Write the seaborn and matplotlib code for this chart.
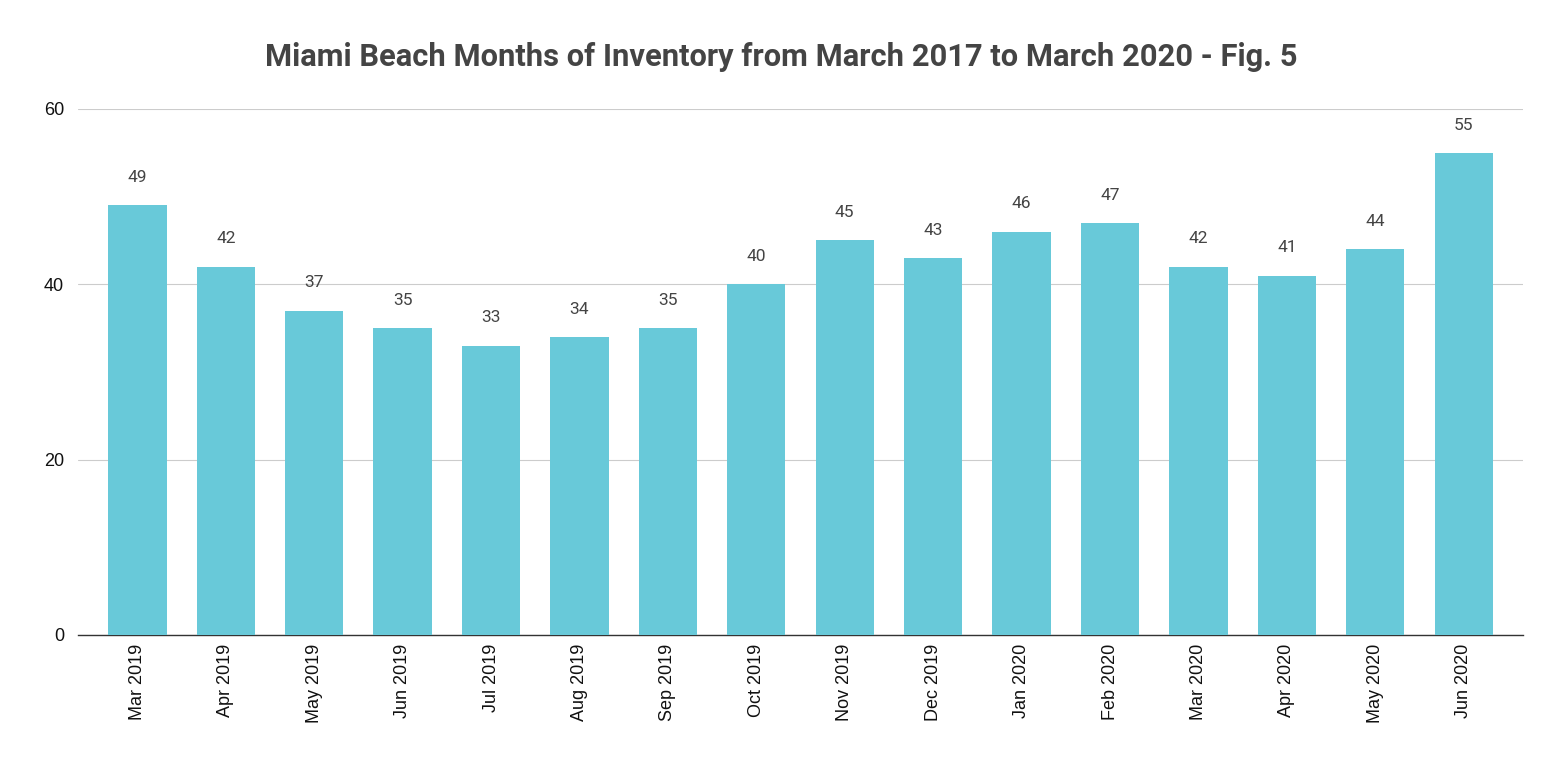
import matplotlib
matplotlib.use("Agg")
import matplotlib.pyplot as plt
import numpy as np
import pandas as pd
import seaborn as sns

# Data
months = ["Mar 2019", "Apr 2019", "May 2019", "Jun 2019", "Jul 2019", "Aug 2019",
          "Sep 2019", "Oct 2019", "Nov 2019", "Dec 2019", "Jan 2020", "Feb 2020",
          "Mar 2020", "Apr 2020", "May 2020", "Jun 2020"]
inventory = [49, 42, 37, 35, 33, 34, 35, 40, 45, 43, 46, 47, 42, 41, 44, 55]

df = pd.DataFrame({"month": months, "inventory": inventory})

sns.set_style("white")
plt.rcParams["font.family"] = ["Roboto", "DejaVu Sans"]

fig = plt.figure(figsize=(15.62, 7.62), dpi=100)
ax = fig.add_axes([0.05, 0.1667, 0.925, 0.6903])

sns.barplot(data=df, x="month", y="inventory", color="#68C9D9", saturation=1,
            width=0.66, ax=ax, zorder=3, linewidth=0)

for i, v in enumerate(inventory):
    ax.annotate(str(v), (i, v), xytext=(0, 20), textcoords="offset points",
                ha="center", va="center", fontsize=12.5, color="#444444")

ax.set_ylim(0, 60)
ax.set_xlim(-0.67, 15.67)
ax.set_yticks([0, 20, 40, 60])
ax.yaxis.grid(True, color="#cccccc", linewidth=0.8, zorder=0)
ax.set_axisbelow(True)
for s in ["top", "right", "left"]:
    ax.spines[s].set_visible(False)
ax.spines["bottom"].set_color("#333333")
ax.spines["bottom"].set_linewidth(1)
ax.set_xlabel("")
ax.set_ylabel("")
ax.tick_params(axis="both", length=0)
ax.tick_params(axis="y", pad=10)
ax.tick_params(axis="x", pad=6)
plt.setp(ax.get_xticklabels(), rotation=90, fontsize=13, family="Liberation Sans",
         color="#111111")
plt.setp(ax.get_yticklabels(), fontsize=13, family="Liberation Sans", color="#111111")

fig.suptitle("Miami Beach Months of Inventory from March 2017 to March 2020 - Fig. 5",
             x=0.5, y=0.945, fontsize=22.2, fontweight="bold", color="#444444",
             family="Roboto")

fig.savefig("out.png", dpi=100)
